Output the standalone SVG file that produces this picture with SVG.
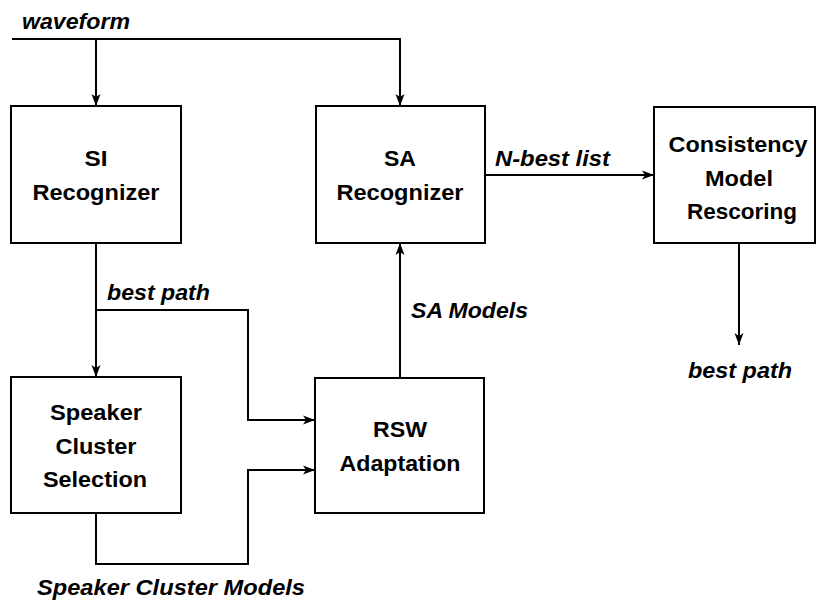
<svg xmlns="http://www.w3.org/2000/svg" width="817" height="600" viewBox="0 0 817 600">
<style>
.box{fill:#fff;stroke:#000;stroke-width:2}
.ln{fill:none;stroke:#000;stroke-width:2}
.t{font-family:"Liberation Sans",Arial,sans-serif;font-weight:bold;font-size:22px;text-anchor:middle;fill:#000}
.lb{font-family:"Liberation Sans",Arial,sans-serif;font-weight:bold;font-style:italic;font-size:22px;fill:#000}
</style>
<defs>
<marker id="ah" viewBox="0 0 12 10" refX="12" refY="5" markerWidth="12" markerHeight="10" markerUnits="userSpaceOnUse" orient="auto">
<path d="M0,0.5 L12,5 L0,9.5 L3,5 Z" fill="#000"/>
</marker>
</defs>
<rect width="817" height="600" fill="#fff"/>
<g id="connectors">
<path class="ln" d="M12,39 H400 V106" marker-end="url(#ah)"/>
<path class="ln" d="M96,39 V106" marker-end="url(#ah)"/>
<path class="ln" d="M485,175 H654" marker-end="url(#ah)"/>
<path class="ln" d="M739,243 V345" marker-end="url(#ah)"/>
<path class="ln" d="M96,243 V377" marker-end="url(#ah)"/>
<path class="ln" d="M96,310 H248 V420 H315" marker-end="url(#ah)"/>
<path class="ln" d="M96,513 V564 H248 V470 H315" marker-end="url(#ah)"/>
<path class="ln" d="M400,378 V243" marker-end="url(#ah)"/>
</g>
<g id="labels">
<text class="lb" x="22" y="29" textLength="108" lengthAdjust="spacingAndGlyphs">waveform</text>
<text class="lb" x="495" y="166" textLength="115" lengthAdjust="spacingAndGlyphs">N-best list</text>
<text class="lb" x="107" y="300" textLength="103" lengthAdjust="spacingAndGlyphs">best path</text>
<text class="lb" x="688" y="378" textLength="104" lengthAdjust="spacingAndGlyphs">best path</text>
<text class="lb" x="411" y="318" textLength="117" lengthAdjust="spacingAndGlyphs">SA Models</text>
<text class="lb" x="37" y="595" textLength="268" lengthAdjust="spacingAndGlyphs">Speaker Cluster Models</text>
</g>
<g id="si">
<rect class="box" x="11" y="106" width="170" height="137"/>
<text class="t" x="96" y="166" textLength="23" lengthAdjust="spacingAndGlyphs">SI</text>
<text class="t" x="96" y="200" textLength="127" lengthAdjust="spacingAndGlyphs">Recognizer</text>
</g>
<g id="sa">
<rect class="box" x="316" y="106" width="169" height="137"/>
<text class="t" x="400" y="166" textLength="32" lengthAdjust="spacingAndGlyphs">SA</text>
<text class="t" x="400" y="200" textLength="127" lengthAdjust="spacingAndGlyphs">Recognizer</text>
</g>
<g id="consistency">
<rect class="box" x="654" y="107" width="161" height="136"/>
<text class="t" x="738" y="152" textLength="139" lengthAdjust="spacingAndGlyphs">Consistency</text>
<text class="t" x="739" y="186" textLength="68" lengthAdjust="spacingAndGlyphs">Model</text>
<text class="t" x="742" y="219" textLength="110" lengthAdjust="spacingAndGlyphs">Rescoring</text>
</g>
<g id="speaker">
<rect class="box" x="11" y="377" width="170" height="136"/>
<text class="t" x="96" y="420" textLength="92" lengthAdjust="spacingAndGlyphs">Speaker</text>
<text class="t" x="96" y="454" textLength="81" lengthAdjust="spacingAndGlyphs">Cluster</text>
<text class="t" x="95" y="487" textLength="104" lengthAdjust="spacingAndGlyphs">Selection</text>
</g>
<g id="rsw">
<rect class="box" x="315" y="378" width="169" height="135"/>
<text class="t" x="400" y="437" textLength="54" lengthAdjust="spacingAndGlyphs">RSW</text>
<text class="t" x="400" y="471" textLength="121" lengthAdjust="spacingAndGlyphs">Adaptation</text>
</g>
</svg>
